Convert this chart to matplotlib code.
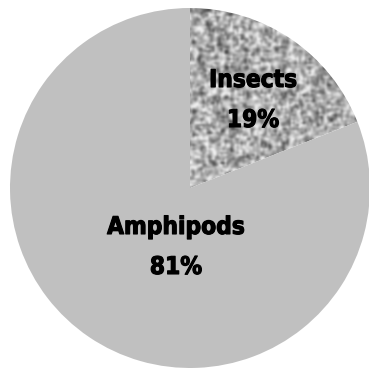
import matplotlib.pyplot as plt
import matplotlib.patheffects as pe
import numpy as np

categorias = ['Insects', 'Amphipods']
valores = [19, 81]
# centro dos rotulos (px), um por categoria
pos_rotulos = [(253, 100), (176, 247)]

W, H = 369, 368
cx, cy, raio = 190, H - 188, 180

fig = plt.figure(figsize=(W / 100, H / 100), dpi=100)
ax = fig.add_axes([0, 0, 1, 1])

fatias, _ = ax.pie(valores, startangle=90, counterclock=False, center=(cx, cy),
                   radius=raio, colors=['none', '#c0c0c0'],
                   wedgeprops=dict(linewidth=0))

# textura granulada da fatia dos insetos
rng = np.random.default_rng(7)
h2, w2 = H // 2, W // 2
ruido = rng.normal(0, 1, (h2, w2))
suave = ruido * 2
for dy, dx in ((0, 1), (0, -1), (1, 0), (-1, 0)):
    suave += 0.6 * np.roll(np.roll(ruido, dy, 0), dx, 1)
suave /= suave.std()
textura = np.clip(0.68 + 0.16 * suave, 0.28, 0.95)
img = ax.imshow(textura, cmap='gray', vmin=0, vmax=1, extent=(0, W, 0, H),
                origin='upper', interpolation='bicubic', zorder=0.5)
img.set_clip_path(fatias[0])

ax.set_xlim(0, W)
ax.set_ylim(0, H)
ax.set_aspect('equal')
ax.axis('off')

estilo = dict(ha='center', va='center', fontsize=17.5, fontweight='bold',
              fontstretch='condensed', color='black', zorder=3,
              path_effects=[pe.withStroke(linewidth=0.8, foreground='black')])
for nome, v, (px, py) in zip(categorias, valores, pos_rotulos):
    ax.text(px, H - py + 20, nome, **estilo)
    ax.text(px, H - py - 20, f'{v}%', **estilo)

fig.savefig('out.png', dpi=100, facecolor='white')
